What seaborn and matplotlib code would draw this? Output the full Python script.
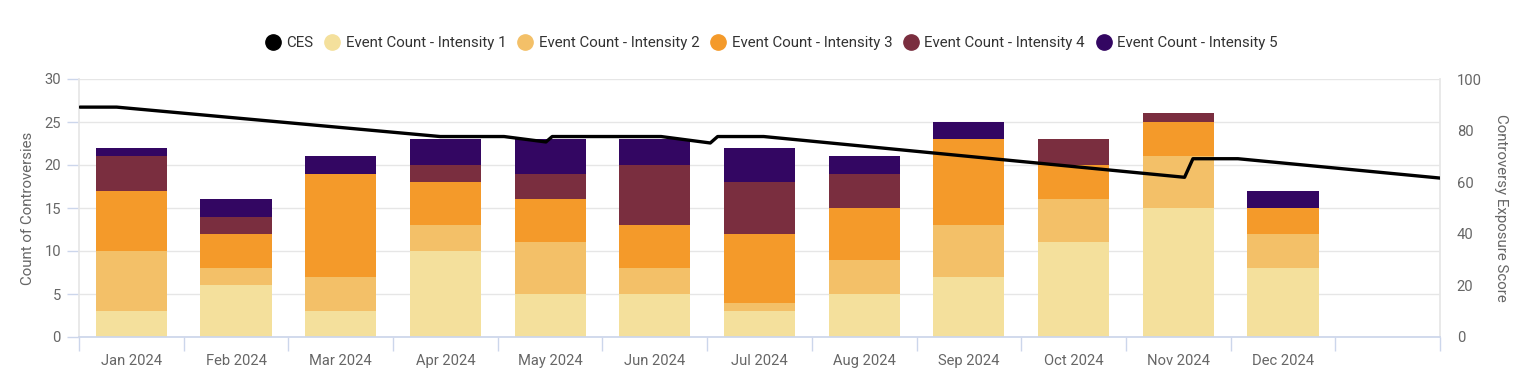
import matplotlib
matplotlib.use("Agg")
import matplotlib.pyplot as plt
from matplotlib.lines import Line2D
import seaborn as sns
import pandas as pd
import numpy as np

# Дані
months = ["Jan 2024", "Feb 2024", "Mar 2024", "Apr 2024", "May 2024", "Jun 2024",
          "Jul 2024", "Aug 2024", "Sep 2024", "Oct 2024", "Nov 2024", "Dec 2024"]
intensity_1 = [3, 6, 3, 10, 5, 5, 3, 5, 7, 11, 15, 8]
intensity_2 = [7, 2, 4, 3, 6, 3, 1, 4, 6, 5, 6, 4]
intensity_3 = [7, 4, 12, 5, 5, 5, 8, 6, 10, 4, 4, 3]
intensity_4 = [4, 2, 0, 2, 3, 7, 6, 4, 0, 3, 1, 0]
intensity_5 = [1, 2, 2, 3, 4, 3, 4, 2, 2, 0, 0, 2]

# CES: положення в місяцях (0 = Jan 2024) і значення
ces_pos = [-0.49, -0.14, 2.95, 3.56, 3.96, 4.02, 5.06, 5.53, 5.60, 6.04, 10.06, 10.14, 10.57, 12.5]
ces_val = [89.1, 89.1, 77.7, 77.7, 75.6, 77.7, 77.7, 75.2, 77.7, 77.7, 61.9, 69.1, 69.1, 61.6]

series_names = ["Event Count - Intensity 1", "Event Count - Intensity 2", "Event Count - Intensity 3",
                "Event Count - Intensity 4", "Event Count - Intensity 5"]
colors = ["#F4E09C", "#F3C068", "#F49A2A", "#7A2E3F", "#330662"]

sns.set_theme(style="white")
plt.rcParams['font.family'] = ['Roboto', 'DejaVu Sans']

df = pd.DataFrame({"month": months, "i1": intensity_1, "i2": intensity_2, "i3": intensity_3,
                   "i4": intensity_4, "i5": intensity_5})
stack = df[["i1", "i2", "i3", "i4", "i5"]].cumsum(axis=1)

fig = plt.figure(figsize=(15.31, 3.92), dpi=100)
ax = fig.add_axes([79 / 1531, 1 - 337 / 392, (1440 - 79) / 1531, (337 - 79) / 392])

# Накладені стовпці (від найвищого до найнижчого)
for col, c in zip(["i5", "i4", "i3", "i2", "i1"], colors[::-1]):
    sns.barplot(x=df["month"], y=stack[col], order=months, color=c, width=0.68,
                saturation=1, linewidth=0, ax=ax)

ax.set_xlim(-0.5, 12.5)
ax.set_ylim(0, 30)
ax.set_yticks(range(0, 31, 5))
ax.yaxis.grid(True, color="#e6e6e6", linewidth=1)
ax.set_axisbelow(True)
ax.set_xticks(np.arange(-0.5, 13, 1))
ax.set_xticklabels([])
ax.set_xticks(range(12), minor=True)
ax.set_xticklabels(months, minor=True)
ax.tick_params(axis="x", which="major", length=10, width=1, color="#ccd6eb", bottom=True)
ax.tick_params(axis="x", which="minor", length=0, pad=12, labelsize=10.6, labelcolor="#666666")
ax.tick_params(axis="y", length=9, width=1, color="#ccd6eb", left=True, pad=4,
               labelsize=10.6, labelcolor="#666666")
ax.set_xlabel("")
ax.set_ylabel("Count of Controversies", fontsize=10.8, color="#666666", labelpad=7)
for s in ["left", "right"]:
    ax.spines[s].set_color("#e6e6e6")
ax.spines["bottom"].set_color("#ccd6eb")
ax.spines["top"].set_visible(False)

# Лінія CES
ax2 = ax.twinx()
sns.lineplot(x=ces_pos, y=ces_val, color="black", linewidth=2.4, ax=ax2,
             solid_joinstyle="round", solid_capstyle="round")
ax2.set_ylim(0, 100)
ax2.set_yticks(range(0, 101, 20))
ax2.tick_params(axis="y", length=0, pad=12, labelsize=10.6, labelcolor="#666666")
ax2.set_ylabel("Controversy Exposure Score", fontsize=10.8, color="#666666", rotation=270, labelpad=19)
for s in ax2.spines.values():
    s.set_visible(False)
ax2.set_xlim(-0.5, 12.5)

handles = [Line2D([], [], marker="o", linestyle="", markersize=11, color="black")]
handles += [Line2D([], [], marker="o", linestyle="", markersize=11, color=c) for c in colors]
fig.legend(handles, ["CES"] + series_names, loc="center", bbox_to_anchor=(0.504, 0.89), ncol=6,
           frameon=False, fontsize=10.8, handlelength=1.0, handletextpad=0.4, columnspacing=0.75,
           labelcolor="#333333")

fig.savefig("out.png", dpi=100)
